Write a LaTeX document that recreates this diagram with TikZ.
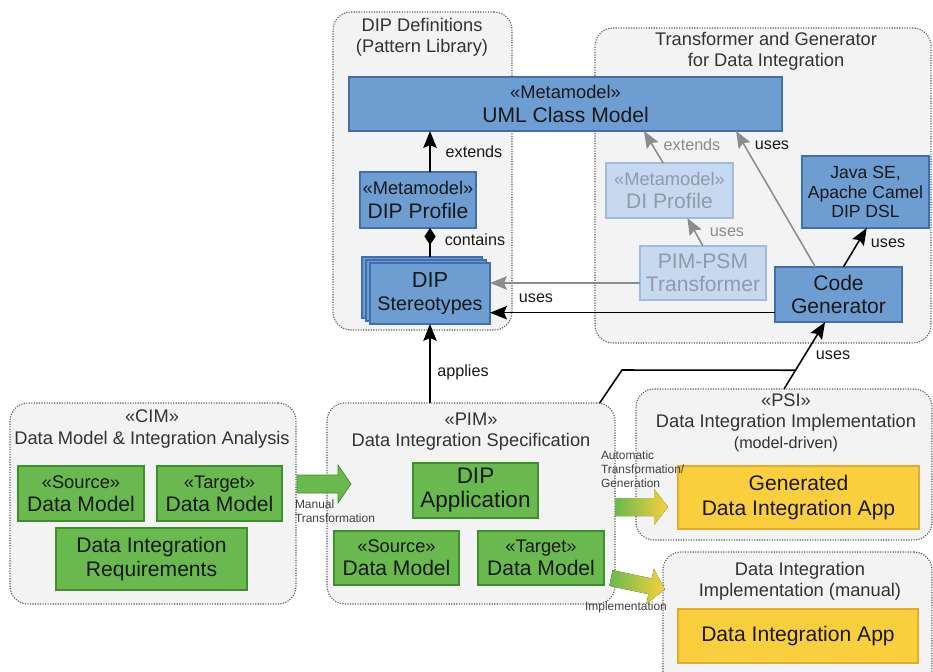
\documentclass[tikz,border=0pt]{standalone}
\usepackage{fontspec}
\setmainfont{Liberation Sans}
\usepackage{xcolor}
\usetikzlibrary{arrows.meta,calc}

\definecolor{groupfill}{HTML}{F3F3F3}
\definecolor{bluefill}{HTML}{6E9DD2}
\definecolor{bluedraw}{HTML}{3F6FAE}
\definecolor{fadefill}{HTML}{C6D9EF}
\definecolor{fadedraw}{HTML}{9FBCE0}
\definecolor{fadetext}{HTML}{8E9BAB}
\definecolor{greenfill}{HTML}{6AB94E}
\definecolor{greendraw}{HTML}{3E8E2C}
\definecolor{yellowfill}{HTML}{F9CF3D}
\definecolor{yellowdraw}{HTML}{E5AA2A}
\definecolor{arrowgray}{HTML}{8C8C8C}

\newcommand{\stereo}{\fontsize{13}{15}\selectfont}

\begin{document}
\begin{tikzpicture}[x=0.025cm, y=-0.025cm,
  every node/.style={inner sep=0pt, outer sep=0pt, align=center, text=black!90},
  wh/.style 2 args={minimum width=#1*0.025cm, minimum height=#2*0.025cm},
  group/.style={draw=black!65, densely dotted, line width=0.8pt, fill=groupfill, rounded corners=0.45cm},
  title/.style={font=\fontsize{13}{15}\selectfont, text=black!80},
  big/.style={font=\fontsize{15}{16.5}\selectfont},
  bluebox/.style={draw=bluedraw, fill=bluefill, line width=0.8pt},
  fadedbox/.style={draw=fadedraw, fill=fadefill, line width=0.8pt, text=fadetext},
  greenbox/.style={draw=greendraw, fill=greenfill, line width=0.8pt},
  yellowbox/.style={draw=yellowdraw, fill=yellowfill, line width=0.8pt},
  lbl/.style={font=\fontsize{11.5}{13}\selectfont},
  tiny/.style={font=\fontsize{8.5}{10}\selectfont, text=black!75, align=left},
  arr/.style={-{Stealth[length=12pt,width=9.5pt,inset=2pt]}, line width=1.1pt},
  garr/.style={arr, draw=arrowgray},
  blockarr/.style={draw=greendraw, line width=0.5pt}]

\useasboundingbox (0,0) rectangle (933,671);
\fill[white] (0,0) rectangle (933,671);

% Groups
\node[group, wh={179}{318}] (dipdef) at (422.5,171) {};
\node[group, wh={336}{315}] (trgen) at (763,185.5) {};
\node[group, wh={286}{201}] (cim) at (153,503.5) {};
\node[group, wh={288}{201}] (pim) at (471,503.5) {};
\node[group, wh={296}{151}] (psi) at (784,464.5) {};
\node[group, wh={269}{138}] (manual) at (797.5,621) {};

% Group titles
\node[title] (dipdef-t) at (422,37) {DIP Definitions\\(Pattern Library)};
\node[title] (trgen-t) at (766,51) {Transformer and Generator\\for Data Integration};
\node[title] (cim-t) at (152,429) {«CIM»\\Data Model \& Integration Analysis};
\node[title] (pim-t) at (471,432) {«PIM»\\Data Integration Specification};
\node[title] (psi-t) at (786,423) {«PSI»\\Data Integration Implementation\\{\fontsize{11.5}{13}\selectfont (model-driven)}};
\node[title] (manual-t) at (800,581) {Data Integration\\Implementation (manual)};

% Blue boxes
\node[bluebox, wh={433}{54}, big] (uml) at (565.5,104) {{\stereo «Metamodel»}\\UML Class Model};
\node[bluebox, wh={116}{56}, big] (prof) at (418,200) {{\stereo «Metamodel»}\\DIP Profile};
\node[bluebox, wh={120}{61}] (ster3) at (422,287.5) {};
\node[bluebox, wh={120}{61}] (ster2) at (426,290.5) {};
\node[bluebox, wh={120}{61}, font=\fontsize{15.5}{17}\selectfont] (ster) at (430,293.5) {DIP\\{\fontsize{14}{16}\selectfont Stereotypes}};
\node[fadedbox, wh={127}{55}, big] (diprof) at (669.5,190.5) {{\stereo «Metamodel»}\\DI Profile};
\node[fadedbox, wh={126}{54}, big] (pimpsm) at (703,273) {PIM-PSM\\Transformer};
\node[bluebox, wh={127}{55}, big] (codegen) at (838.5,294.5) {Code\\Generator};
\node[bluebox, wh={127}{72}, font=\fontsize{12.5}{14}\selectfont] (java) at (865.5,192) {Java SE,\\Apache Camel\\DIP DSL};

% Green boxes
\node[greenbox, wh={126}{55}, big] (src1) at (81,493.5) {{\stereo «Source»}\\Data Model};
\node[greenbox, wh={125}{55}, big] (tgt1) at (219.5,493.5) {{\stereo «Target»}\\Data Model};
\node[greenbox, wh={191}{62}, big] (req) at (151.5,559) {Data Integration\\Requirements};
\node[greenbox, wh={125}{55}, font=\fontsize{16}{17}\selectfont] (app) at (475.5,490.5) {DIP\\Application};
\node[greenbox, wh={125}{54}, big] (src2) at (396.5,558) {{\stereo «Source»}\\Data Model};
\node[greenbox, wh={126}{54}, big] (tgt2) at (541,558) {{\stereo «Target»}\\Data Model};

% Yellow boxes
\node[yellowbox, wh={241}{63}, font=\fontsize{15}{17.5}\selectfont] (genapp) at (798.5,497.5) {Generated\\Data Integration App};
\node[yellowbox, wh={240}{54}, big] (dia) at (798,636) {Data Integration App};

% Connectors
\draw[arr] (prof.north -| ster.north) -- (uml.south -| ster.north);
\draw[{Diamond[length=12pt,width=8pt]}-, line width=1.1pt] (prof.south -| ster.north) -- (ster3.north -| ster.north);
\draw[garr] (diprof.103) -- (uml.-19);
\draw[garr] (pimpsm.north) -- (diprof.-57);
\draw[garr] (codegen.130) -- (uml.-9);
\draw[arr] (codegen.80) -- (java.-88);
\draw[garr] (pimpsm.189) -- (pimpsm.189 -| ster.east);
\draw[arr] (codegen.196) -- (codegen.196 -| ster.east);
\draw[arr] (pim.north -| ster.south) -- (ster.south);
\draw[arr] (psi.north) -- (codegen.-116);
\coordinate (jn) at ($(psi.north)!0.28!(codegen.-116)$);
\draw[line width=1.1pt] (pim.38) -- (622,370) -- (jn);

% Labels
\node[lbl] (l-ext) at (474,152) {extends};
\node[lbl] (l-cont) at (475,240) {contains};
\node[lbl, text=arrowgray] (l-gext) at (692,145) {extends};
\node[lbl, text=arrowgray] (l-guse) at (727,232) {uses};
\node[lbl] (l-use1) at (772,145) {uses};
\node[lbl] (l-use2) at (888,243) {uses};
\node[lbl] (l-use3) at (536,298) {uses};
\node[lbl] (l-app) at (463,372) {applies};
\node[lbl] (l-use4) at (833,355) {uses};

% Block arrows
\draw[blockarr, fill=greenfill] (297,475) -- (338,475) -- (338,465) -- (351,484) -- (338,503) -- (338,493) -- (297,493) -- cycle;
\fill[left color=greenfill, right color=yellowfill] (615,498) -- (654,498) -- (654,489) -- (668,507) -- (654,525) -- (654,516) -- (615,516) -- cycle;
\begin{scope}[shift={(611,578)}, rotate=-12]
\fill[left color=greenfill, right color=yellowfill] (0,-8) -- (40,-8) -- (40,-18) -- (55,0) -- (40,18) -- (40,8) -- (0,8) -- cycle;
\end{scope}
\node[tiny, anchor=north west] (l-man) at (295,500) {Manual\\Transformation};
\node[tiny, anchor=north west] (l-auto) at (601,451) {Automatic\\Transformation/\\Generation};
\node[tiny] (l-impl) at (626,607) {Implementation};
\end{tikzpicture}
\end{document}
